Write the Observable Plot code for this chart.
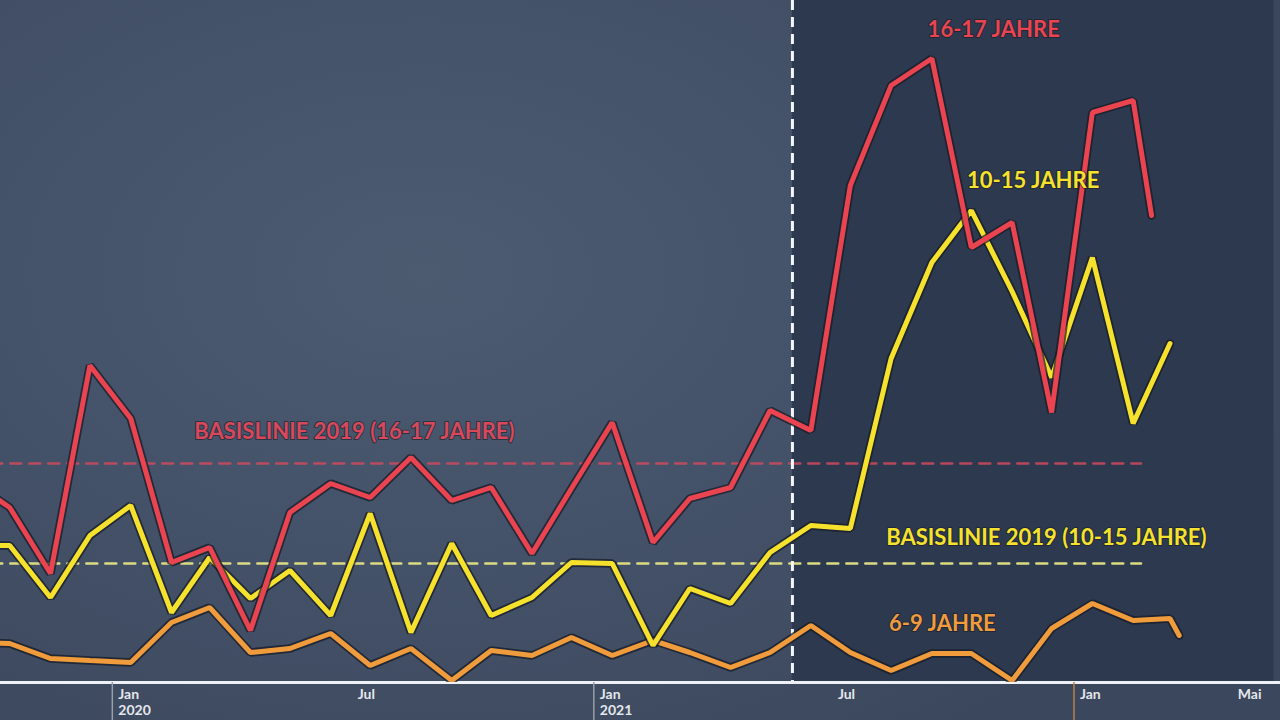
<!DOCTYPE html>
<html>
<head>
<meta charset="utf-8">
<script src="https://cdn.jsdelivr.net/npm/d3@7"></script>
<script src="https://cdn.jsdelivr.net/npm/@observablehq/plot@0.6"></script>
<style>
html, body { margin: 0; padding: 0; overflow: hidden; }
body {
  width: 1280px; height: 720px;
  background: radial-gradient(ellipse 70% 80% at 33% 38%, #4d5b71 0%, #45536a 45%, #3b475c 100%);
}
#chart svg { display: block; }
</style>
</head>
<body>
<div id="chart"></div>
<script>
// ---- data (monthly values, mid-month) ----
const months = [
  "2019-09-15","2019-10-15","2019-11-15","2019-12-15",
  "2020-01-15","2020-02-15","2020-03-15","2020-04-15","2020-05-15","2020-06-15",
  "2020-07-15","2020-08-15","2020-09-15","2020-10-15","2020-11-15","2020-12-15",
  "2021-01-15","2021-02-15","2021-03-15","2021-04-15","2021-05-15","2021-06-15",
  "2021-07-15","2021-08-15","2021-09-15","2021-10-15","2021-11-15","2021-12-15",
  "2022-01-15","2022-02-15"
];
const age16_17 = [101, 87.5, 54.5, 158.5, 132, 60, 67.5, 26, 85, 99.5, 92.5, 112.5,
  91, 97.5, 64.5, 97, 130, 70, 92, 97.5, 136, 126, 248.5, 298.5, 312, 217.5, 230, 135, 285, 291];
const age10_15 = [68.5, 68.5, 42.5, 73.5, 88.5, 35, 62.5, 42, 56, 33.5, 84.5, 25,
  69.5, 33.5, 42.5, 60, 59.5, 18.5, 47, 39.5, 65, 78.5, 77, 162, 210, 236, 195.5, 152.5, 212.5, 129.5];
const age6_9 = [20, 19.5, 12, 11, 10, 30, 37.5, 15, 17, 24.5, 8.5, 17,
  1, 16, 13.5, 22.5, 13.5, 21, 15, 7.5, 15, 28.5, 15, 6, 14.5, 14.5, 1, 27, 39.5, 31];
// latest partial values
const tail16_17Dates = ["2022-03-01"];
const tail16_17 = [233.5];
const tail10_15Dates = ["2022-03-15"];
const tail10_15 = [169.5];
const tail6_9Dates = ["2022-03-15", "2022-03-22"];
const tail6_9 = [32, 23.5];

const baseline16_17 = 109.5;
const baseline10_15 = 59.5;
const baselineEnd = "2022-02-21";
const markerDate = "2021-06-01";

const tickDates = ["2020-01-01","2020-07-01","2021-01-01","2021-07-01","2022-01-01","2022-05-01"];
const tickLabels = ["Jan\n2020","Jul","Jan\n2021","Jul","Jan","Mai"];
const janTickDates = ["2020-01-01","2021-01-01"];
const janTickDates2022 = ["2022-01-01"];

// ---- build tables ----
const D = s => new Date(s + "T00:00:00Z");
function series(dates, values, tailDates, tailValues) {
  return dates.map((d, i) => ({date: D(d), value: values[i]}))
    .concat(tailDates.map((d, i) => ({date: D(d), value: tailValues[i]})));
}
const s16 = series(months, age16_17, tail16_17Dates, tail16_17);
const s10 = series(months, age10_15, tail10_15Dates, tail10_15);
const s6 = series(months, age6_9, tail6_9Dates, tail6_9);

const RED = "#e9444f", YELLOW = "#f6e22c", ORANGE = "#f09b3c", OUT = "#171c28";
const xDomain = [D("2019-10-08"), D("2022-06-07")];
const base = [D("2019-10-01"), D(baselineEnd)];

function outlinedLine(data, color) {
  return [
    Plot.line(data, {x: "date", y: "value", stroke: OUT, strokeWidth: 8.5, strokeOpacity: 0.75, strokeLinejoin: "miter", clip: true}),
    Plot.line(data, {x: "date", y: "value", stroke: color, strokeWidth: 5, strokeLinejoin: "miter", clip: true})
  ];
}
function label(txt, date, value, color, size) {
  return Plot.text([txt], {
    x: D(date), y: value, text: d => d, fill: color,
    stroke: OUT, strokeWidth: 2, strokeOpacity: 0.6,
    fontSize: size, fontWeight: 700, fontFamily: "Lato, 'Open Sans', sans-serif"
  });
}

const chart = Plot.plot({
  width: 1280, height: 720,
  marginTop: 0, marginRight: 0, marginBottom: 38, marginLeft: 0,
  style: {background: "transparent", fontFamily: "Lato, sans-serif", overflow: "hidden"},
  x: {type: "utc", domain: xDomain},
  y: {domain: [0, 341], axis: null},
  marks: [
    // dark right panel
    Plot.rect([0], {x1: D(markerDate), x2: D("2022-06-02"), y1: 0, y2: 341, fill: "#2d394e"}),
    // axis baseline
    Plot.ruleY([0], {stroke: "#eef2f7", strokeWidth: 3}),
    // tick marks
    Plot.axisX({ticks: janTickDates.map(D), tickSize: 38, tickFormat: () => "", stroke: "#9a9ea6", strokeWidth: 1.5}),
    Plot.axisX({ticks: janTickDates2022.map(D), tickSize: 38, tickFormat: () => "", stroke: "#b98245", strokeWidth: 1.5}),
    // tick labels
    Plot.axisX({
      ticks: tickDates.map(D), tickSize: 0, tickPadding: 6,
      tickFormat: (d, i) => tickLabels[i],
      textAnchor: "start", dx: 6, fontSize: 14, fontWeight: 700, fill: "#e4e7ec",
      lineHeight: 1.1
    }),
    // baselines
    Plot.line(base.map(d => ({date: d, value: baseline16_17})), {x: "date", y: "value", stroke: "#cf4a5e", strokeWidth: 2.5, strokeDasharray: "11,8", strokeOpacity: 0.85, clip: true}),
    Plot.line(base.map(d => ({date: d, value: baseline10_15})), {x: "date", y: "value", stroke: "#dcdb82", strokeWidth: 2.5, strokeDasharray: "11,8", clip: true}),
    // vertical marker
    Plot.ruleX([D(markerDate)], {stroke: "#f2f5fa", strokeWidth: 3, strokeDasharray: "10,7"}),
    // series
    ...outlinedLine(s6, ORANGE),
    ...outlinedLine(s10, YELLOW),
    ...outlinedLine(s16, RED),
    // labels
    label("16-17 JAHRE", "2021-11-01", 326.5, RED, 22),
    label("10-15 JAHRE", "2021-12-01", 251, YELLOW, 22),
    label("BASISLINIE 2019 (16-17 JAHRE)", "2020-07-03", 125.5, "#d8485b", 22),
    label("BASISLINIE 2019 (10-15 JAHRE)", "2021-12-11", 72.5, YELLOW, 22),
    label("6-9 JAHRE", "2021-09-23", 29.5, ORANGE, 22)
  ]
});
document.getElementById("chart").appendChild(chart);
</script>
</body>
</html>
